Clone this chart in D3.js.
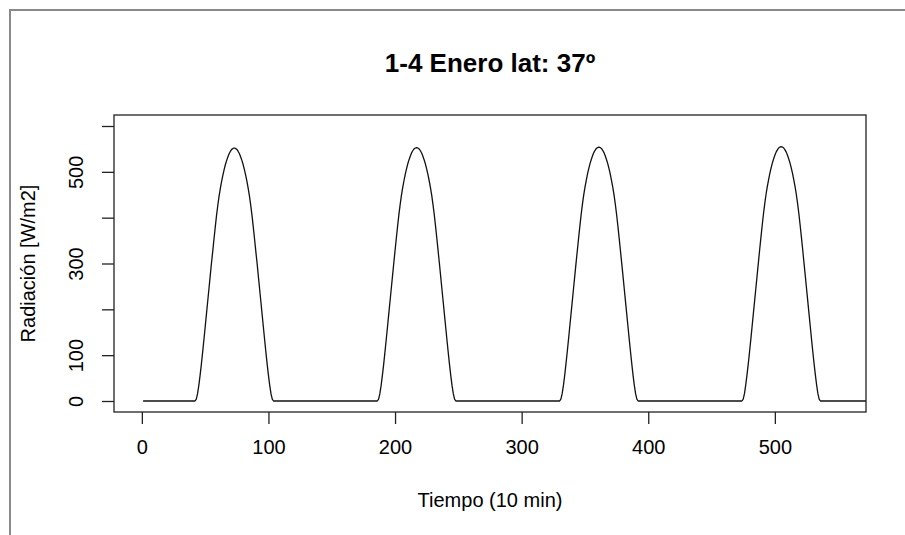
<!DOCTYPE html>
<html>
<head>
<meta charset="utf-8">
<script src="https://cdn.jsdelivr.net/npm/d3@7"></script>
<style>
  body { margin: 0; background: #fff; }
  text { font-family: "Liberation Sans", Arial, sans-serif; fill: #000; }
</style>
</head>
<body>
<div id="chart"></div>
<script>
// radiation, one value per 10 min step, only the daylight part of each day
const numPasos = 576;
const inicioDia = [42, 186, 330, 474]; // step where each day's curve leaves 0
const radDia1 = [0, 4, 16, 34, 56, 80, 106, 133, 161, 189, 217, 245, 273, 301, 327, 354, 380, 405, 427, 447, 464, 479, 493, 505, 516, 525, 533, 540, 545, 549, 551, 552,
  551, 549, 545, 540, 533, 525, 516, 505, 493, 479, 464, 447, 427, 405, 380, 354, 327, 301, 273, 245, 217, 189, 161, 133, 106, 80, 56, 34, 16, 4, 0];
const radDia2 = [0, 4, 16, 34, 56, 80, 106, 133, 161, 189, 217, 245, 273, 301, 328, 355, 381, 406, 428, 448, 465, 480, 494, 506, 517, 526, 534, 541, 546, 550, 552, 553,
  552, 550, 546, 541, 534, 526, 517, 506, 494, 480, 465, 448, 428, 406, 381, 355, 328, 301, 273, 245, 217, 189, 161, 133, 106, 80, 56, 34, 16, 4, 0];
const radDia3 = [0, 4, 16, 34, 56, 81, 107, 134, 162, 190, 218, 246, 274, 302, 329, 356, 382, 407, 429, 449, 466, 481, 495, 507, 518, 527, 535, 542, 547, 551, 553, 554,
  553, 551, 547, 542, 535, 527, 518, 507, 495, 481, 466, 449, 429, 407, 382, 356, 329, 302, 274, 246, 218, 190, 162, 134, 107, 81, 56, 34, 16, 4, 0];
const radDia4 = [0, 4, 16, 35, 57, 81, 107, 134, 162, 190, 218, 246, 274, 302, 330, 357, 383, 408, 430, 450, 467, 482, 496, 508, 519, 528, 536, 543, 548, 552, 554, 555,
  554, 552, 548, 543, 536, 528, 519, 508, 496, 482, 467, 450, 430, 408, 383, 357, 330, 302, 274, 246, 218, 190, 162, 134, 107, 81, 57, 35, 16, 4, 0];
const xTicks = [0, 100, 200, 300, 400, 500];
const yTicks = [0, 100, 200, 300, 400, 500, 600];
const yTickLabels = [0, 100, 300, 500];
const xLim = [0, 550];
const yLim = [0, 600];

const width = 905, height = 535;
const box = { left: 114, top: 115, right: 866, bottom: 412 };

// R style 4% padding around the limits
function pad(lim) {
  let d = (lim[1] - lim[0]) * 0.04;
  return [lim[0] - d, lim[1] + d];
}

let serie = [];
for (let i = 1; i <= numPasos; i++) serie.push({ t: i, v: 0 });
[radDia1, radDia2, radDia3, radDia4].forEach(function(dia, k) {
  dia.forEach(function(v, j) {
    let t = inicioDia[k] + j;
    if (t >= 1 && t <= numPasos) serie[t - 1].v = v;
  });
});

let x = d3.scaleLinear().domain(pad(xLim)).range([box.left, box.right]);
let y = d3.scaleLinear().domain(pad(yLim)).range([box.bottom, box.top]);

let svg = d3.select("#chart").append("svg")
  .attr("width", width)
  .attr("height", height);

// frame of the window around the plot
svg.append("path")
  .attr("d", "M10," + height + "V10H" + width)
  .attr("fill", "none")
  .attr("stroke", "#8a8a8a")
  .attr("stroke-width", 2);

svg.append("defs").append("clipPath")
  .attr("id", "plotclip")
  .append("rect")
  .attr("x", box.left)
  .attr("y", box.top)
  .attr("width", box.right - box.left)
  .attr("height", box.bottom - box.top);

let line = d3.line()
  .x(function(d) { return x(d.t); })
  .y(function(d) { return y(d.v); });

svg.append("path")
  .datum(serie)
  .attr("clip-path", "url(#plotclip)")
  .attr("d", line)
  .attr("fill", "none")
  .attr("stroke", "#111")
  .attr("stroke-width", 1.3)
  .attr("stroke-linejoin", "round");

svg.append("rect")
  .attr("x", box.left)
  .attr("y", box.top)
  .attr("width", box.right - box.left)
  .attr("height", box.bottom - box.top)
  .attr("fill", "none")
  .attr("stroke", "#222")
  .attr("stroke-width", 1.3);

// axes
let xAxis = d3.axisBottom(x).tickValues(xTicks).tickSize(12).tickPadding(16);
svg.append("g")
  .attr("transform", "translate(0," + box.bottom + ")")
  .call(xAxis)
  .call(function(g) {
    g.select(".domain").remove();
    g.selectAll("line").attr("stroke", "#222").attr("stroke-width", 1.3);
    g.selectAll("text").attr("font-size", 20).attr("font-family", null);
  });

let yAxis = d3.axisLeft(y).tickValues(yTicks).tickSize(12)
  .tickFormat(function(d) { return yTickLabels.indexOf(d) >= 0 ? d : ""; });
svg.append("g")
  .attr("transform", "translate(" + box.left + ",0)")
  .call(yAxis)
  .call(function(g) {
    g.select(".domain").remove();
    g.selectAll("line").attr("stroke", "#222").attr("stroke-width", 1.3);
    g.selectAll("text")
      .attr("font-size", 20)
      .attr("font-family", null)
      .attr("x", null)
      .attr("text-anchor", "middle")
      .attr("transform", "translate(-38,0) rotate(-90)")
      .attr("y", 0)
      .attr("dy", "0.35em");
  });

// titles
svg.append("text")
  .attr("x", (box.left + box.right) / 2)
  .attr("y", 72)
  .attr("text-anchor", "middle")
  .attr("font-size", 26)
  .attr("font-weight", "bold")
  .text("1-4 Enero lat: 37º");

svg.append("text")
  .attr("x", (box.left + box.right) / 2)
  .attr("y", 507)
  .attr("text-anchor", "middle")
  .attr("font-size", 20)
  .text("Tiempo (10 min)");

svg.append("text")
  .attr("transform", "translate(35," + (box.top + box.bottom) / 2 + ") rotate(-90)")
  .attr("text-anchor", "middle")
  .attr("font-size", 20)
  .text("Radiación [W/m2]");
</script>
</body>
</html>
